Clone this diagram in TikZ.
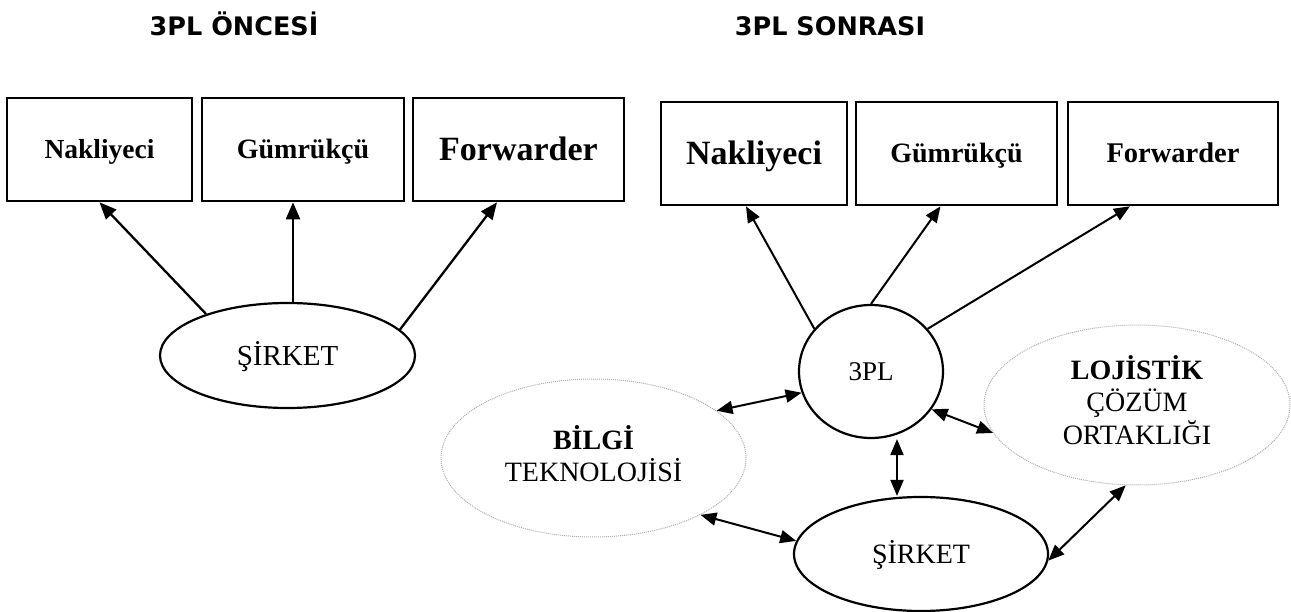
\documentclass[tikz,border=0pt]{standalone}
\usepackage{fontspec}
\setmainfont{Liberation Serif}
\newfontfamily\headfont{DejaVu Sans}
\usetikzlibrary{arrows.meta,calc,shapes.geometric}

\begin{document}
\begin{tikzpicture}[x=1pt,y=-1pt,
  box/.style={draw,line width=2.6pt,rectangle,inner sep=0pt,text depth=0pt},
  oval/.style={draw,line width=2.2pt,ellipse,inner sep=0pt,text depth=0pt},
  cloud/.style={draw=gray!65,line width=1pt,dash pattern=on 1pt off 1pt,
    ellipse,inner sep=0pt},
  heading/.style={font=\headfont\bfseries\fontsize{25.5}{30}\selectfont,
    anchor=base,inner sep=0pt},
  uparr/.style={line width=2.3pt,-{Triangle[length=17pt,width=14pt]}},
  linkarr/.style={line width=2pt,-{Triangle[length=16pt,width=13pt]}},
  twoway/.style={line width=2pt,
    {Triangle[length=16pt,width=13pt]}-{Triangle[length=16pt,width=13pt]}}
]
\useasboundingbox (0,0) rectangle (1291,612);

% ---------- headings ----------
\node[heading] (h1) at (234,36) {3PL ÖNCESİ};
\node[heading] (h2) at (830,36) {3PL SONRASI};

% ---------- before: the company deals with each provider ----------
\node[box,minimum width=185pt,minimum height=103pt,text height=18.2pt,
  font=\bfseries\fontsize{27.5}{30}\selectfont] (L1) at (99.5,149.5) {Nakliyeci};
\node[box,minimum width=202pt,minimum height=103pt,text height=18.5pt,
  font=\bfseries\fontsize{28}{30}\selectfont] (L2) at (303,149.5) {Gümrükçü};
\node[box,minimum width=211pt,minimum height=103pt,text height=22.4pt,
  font=\bfseries\fontsize{34}{36}\selectfont] (L3) at (518.5,149.5) {Forwarder};
\node[oval,minimum width=255pt,minimum height=105pt,text height=19.1pt,
  font=\fontsize{29}{31}\selectfont] (LE) at (287.5,355.5) {ŞİRKET};

\draw[uparr] (LE.153) -- (L1.south);
\draw[uparr] ($(LE.north)+(5.5,0)$) -- ($(L2.south)+(-10,0)$);
\draw[uparr] (LE.13) -- ($(L3.south)+(-21.5,0)$);

% ---------- after: the 3PL in the middle ----------
\node[box,minimum width=186pt,minimum height=103pt,text height=22.4pt,
  font=\bfseries\fontsize{34}{36}\selectfont] (R1) at (754,153.5) {Nakliyeci};
\node[box,minimum width=201pt,minimum height=103pt,text height=18.5pt,
  font=\bfseries\fontsize{28}{30}\selectfont] (R2) at (956.5,153.5) {Gümrükçü};
\node[box,minimum width=210pt,minimum height=103pt,text height=18.8pt,
  font=\bfseries\fontsize{28.5}{30}\selectfont] (R3) at (1173,153.5) {Forwarder};

\node[oval,minimum width=144pt,minimum height=133pt,text height=17.9pt,
  font=\fontsize{27}{30}\selectfont] (TPL) at (871,371.5) {3PL};
\node[oval,minimum width=254pt,minimum height=114pt,text height=18.5pt,
  font=\fontsize{28}{30}\selectfont] (SR) at (921,554) {ŞİRKET};
\node[cloud,minimum width=305pt,minimum height=158pt,
  font=\fontsize{28}{30}\selectfont] (BT) at (593.5,458)
  {\begin{tabular}{@{}c@{}}\textbf{BİLGİ}\\TEKNOLOJİSİ\end{tabular}};
\node[cloud,minimum width=306pt,minimum height=160pt,
  font=\fontsize{28}{32}\selectfont] (LC) at (1137,405)
  {\begin{tabular}{@{}c@{}}\textbf{LOJİSTİK}\\ÇÖZÜM\\ORTAKLIĞI\end{tabular}};

\draw[linkarr] (TPL.143) -- ($(R1.south)+(-8,0)$);
\draw[linkarr] (TPL.north) -- ($(R2.south)+(-16,0)$);
\draw[linkarr] (TPL.37) -- ($(R3.south)+(-43,0)$);

\draw[twoway] (BT.21) -- (TPL.197);
\draw[twoway] (TPL.-32) -- (LC.191);
\draw[twoway] ($(TPL.south)+(26,0)$) -- ($(SR.north)+(-24,0)$);
\draw[twoway] (BT.-28) -- (SR.174);
\draw[twoway] (SR.-3) -- (LC.262);
\end{tikzpicture}
\end{document}
